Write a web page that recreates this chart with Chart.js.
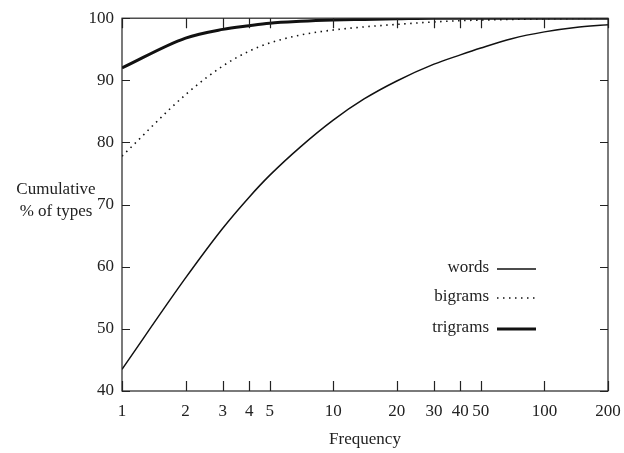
<!DOCTYPE html>
<html>
<head>
<meta charset="utf-8">
<script src="https://cdn.jsdelivr.net/npm/chart.js@4"></script>
<style>
  html, body { margin: 0; padding: 0; background: #fff; }
  #wrap { width: 624px; height: 453px; }
</style>
</head>
<body>
<div id="wrap"><canvas id="freq_chart" width="624" height="453"></canvas></div>
<script>
// data
const freqs = [1, 2, 3, 4, 5, 7, 10, 14, 20, 30, 40, 50, 70, 100, 140, 200];
const words = [43.5, 58.2, 66.2, 71.2, 74.7, 79.3, 83.6, 87.0, 89.9, 92.6, 94.1, 95.2, 96.7, 97.8, 98.5, 98.95];
const bigrams = [77.8, 87.7, 92.3, 94.7, 96.0, 97.3, 98.1, 98.6, 99.0, 99.4, 99.6, 99.7, 99.8, 99.9, 99.95, 100];
const trigrams = [92.0, 96.8, 98.2, 98.8, 99.2, 99.5, 99.7, 99.8, 99.9, 100, 100, 100, 100, 100, 100, 100];
const xTicks = [1, 2, 3, 4, 5, 10, 20, 30, 40, 50, 100, 200];
const yTicks = [40, 50, 60, 70, 80, 90, 100];

const FONT = '"Liberation Serif", "DejaVu Serif", serif';

function pts(ys) {
	return freqs.map((f, i) => ({x: f, y: ys[i]}));
}

// frame, inward ticks, y label and legend drawn on top
const framePlugin = {
	id: 'frame',
	afterDraw: (chart) => {
		const ctx = chart.ctx;
		const a = chart.chartArea;
		const xs = chart.scales.x, ys = chart.scales.y;
		ctx.save();
		ctx.strokeStyle = '#222';
		ctx.lineWidth = 1.2;
		ctx.strokeRect(a.left, a.top, a.right - a.left, a.bottom - a.top);
		ctx.beginPath();
		xTicks.forEach(v => {
			const px = Math.round(xs.getPixelForValue(v)) + 0.5;
			ctx.moveTo(px, a.bottom); ctx.lineTo(px, a.bottom - 10);
			ctx.moveTo(px, a.top); ctx.lineTo(px, a.top + 10);
		});
		yTicks.forEach(v => {
			const py = Math.round(ys.getPixelForValue(v)) + 0.5;
			ctx.moveTo(a.left, py); ctx.lineTo(a.left + 8, py);
			ctx.moveTo(a.right, py); ctx.lineTo(a.right - 8, py);
		});
		ctx.stroke();

		// horizontal y axis label
		ctx.fillStyle = '#222';
		ctx.font = '17px ' + FONT;
		ctx.textAlign = 'center';
		ctx.textBaseline = 'middle';
		ctx.fillText('Cumulative', 56, 190);
		ctx.fillText('% of types', 56, 212);

		// legend inside the plot
		const legY = [268, 297, 328];
		chart.data.datasets.forEach((ds, i) => {
			ctx.textAlign = 'right';
			ctx.fillStyle = '#222';
			ctx.fillText(ds.label, 489, legY[i]);
			ctx.beginPath();
			ctx.strokeStyle = ds.borderColor;
			ctx.lineWidth = ds.borderWidth;
			ctx.setLineDash(ds.borderDash || []);
			ctx.moveTo(497, legY[i] + 1);
			ctx.lineTo(536, legY[i] + 1);
			ctx.stroke();
		});
		ctx.restore();
	}
};

const ctx = document.getElementById('freq_chart').getContext('2d');
const freqChart = new Chart(ctx, {
	type: 'line',
	data: {
		datasets: [
			{label: 'words', data: pts(words), borderColor: '#111', borderWidth: 1.5},
			{label: 'bigrams', data: pts(bigrams), borderColor: '#111', borderWidth: 1.6, borderDash: [1.5, 4.5]},
			{label: 'trigrams', data: pts(trigrams), borderColor: '#111', borderWidth: 3}
		]
	},
	options: {
		responsive: false,
		animation: false,
		layout: {padding: {top: 16, right: 16, bottom: 0, left: 0}},
		elements: {
			point: {radius: 0},
			line: {cubicInterpolationMode: 'monotone', fill: false}
		},
		plugins: {
			legend: {display: false},
			tooltip: {enabled: false}
		},
		scales: {
			x: {
				type: 'logarithmic',
				min: 1,
				max: 200,
				afterBuildTicks: (scale) => { scale.ticks = xTicks.map(v => ({value: v})); },
				afterFit: (scale) => {
					scale.height = 62;
					scale.paddingLeft = 0;
					scale.paddingRight = 0;
				},
				grid: {display: false, drawTicks: false},
				border: {display: false},
				ticks: {
					color: '#222',
					font: {family: FONT, size: 17},
					padding: 10,
					maxRotation: 0,
					autoSkip: false,
					callback: (v) => String(v)
				},
				title: {
					display: true,
					text: 'Frequency',
					color: '#222',
					font: {family: FONT, size: 17},
					padding: {top: 0, bottom: 3}
				}
			},
			y: {
				min: 40,
				max: 100,
				afterBuildTicks: (scale) => { scale.ticks = yTicks.map(v => ({value: v})); },
				afterFit: (scale) => { scale.width = 122; },
				grid: {display: false, drawTicks: false},
				border: {display: false},
				ticks: {
					color: '#222',
					font: {family: FONT, size: 17},
					padding: 8
				}
			}
		}
	},
	plugins: [framePlugin]
});
</script>
</body>
</html>
